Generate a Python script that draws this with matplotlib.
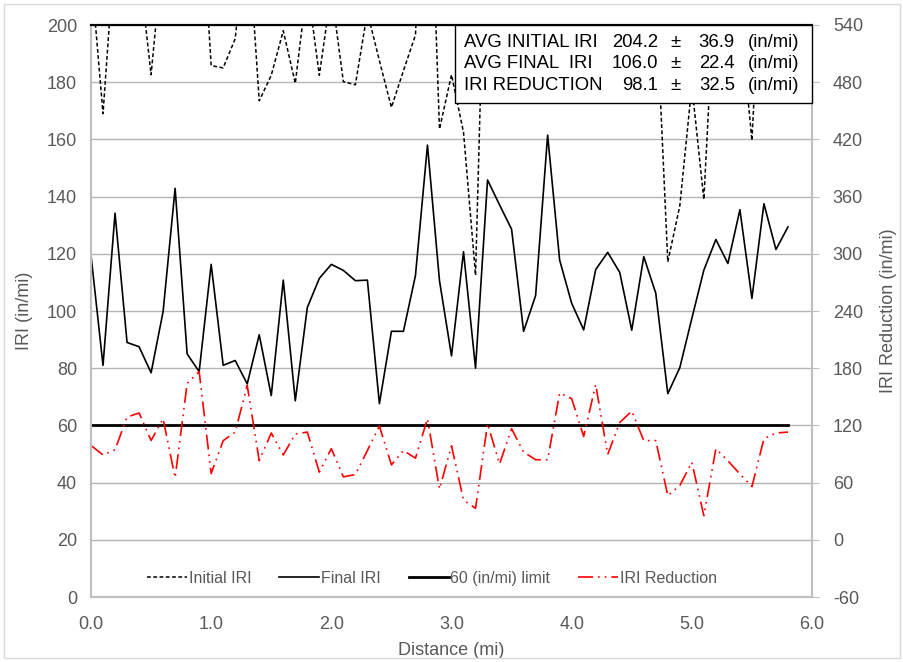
import numpy as np
import matplotlib
matplotlib.use("Agg")
import matplotlib.pyplot as plt
from matplotlib.patches import Rectangle

plt.rcParams['font.family'] = ['Liberation Sans', 'DejaVu Sans']
plt.rcParams['axes.unicode_minus'] = False

# distance stations (mi), one every 0.1 mi
distance = np.round(np.arange(0, 5.85, 0.1), 1)

initial_iri = [218.5, 169.0, 228.6, 217.8, 220.5, 182.6, 226.8, 207.9, 248.9, 255.3,
               185.8, 185.0, 195.2, 236.5, 173.5, 182.4, 198.0, 179.6, 214.2, 182.4,
               211.9, 180.2, 179.1, 204.5, 187.5, 171.2, 184.0, 196.5, 285.0, 163.6,
               182.6, 162.5, 112.5, 267.6, 216.7, 245.1, 184.9, 189.4, 245.5, 271.8,
               250.7, 201.8, 277.3, 210.0, 236.5, 228.3, 223.0, 210.2, 117.2, 136.8,
               178.8, 139.0, 220.4, 199.6, 204.4, 159.6, 243.5, 233.5, 242.4]

final_iri = [119.5, 81.0, 134.2, 89.0, 87.5, 78.4, 99.8, 142.9, 85.0, 78.8,
             116.3, 81.0, 82.7, 74.5, 91.7, 70.4, 110.8, 68.6, 101.2, 111.4,
             116.3, 114.2, 110.6, 110.8, 67.6, 92.9, 92.9, 112.4, 158.0, 110.6,
             84.3, 120.7, 80.0, 145.8, 137.1, 128.6, 92.9, 105.4, 161.5, 117.8,
             102.7, 93.4, 114.5, 120.5, 113.5, 93.3, 119.0, 106.2, 71.1, 80.2,
             97.4, 114.3, 125.0, 116.6, 135.4, 104.4, 137.5, 121.5, 129.4]

iri_reduction = [99.0, 89.0, 94.4, 128.8, 133.0, 104.2, 127.0, 65.0, 163.9, 176.5,
                 69.5, 104.0, 113.0, 162.0, 83.0, 112.0, 89.0, 111.0, 113.0, 71.0,
                 95.6, 66.0, 68.5, 93.7, 119.3, 78.6, 93.7, 85.6, 127.0, 53.3,
                 98.6, 41.8, 33.0, 121.8, 79.6, 116.5, 92.0, 84.0, 84.0, 154.0,
                 148.0, 108.4, 162.8, 89.5, 123.0, 135.0, 104.0, 104.0, 46.3, 56.8,
                 81.4, 25.3, 95.4, 83.0, 69.0, 55.8, 106.0, 112.0, 113.0]

limit_value = 60

stat_labels = ['AVG INITIAL IRI', 'AVG FINAL  IRI', 'IRI REDUCTION']
stat_means = ['204.2', '106.0', '98.1']
stat_sds = ['36.9', '22.4', '32.5']

GRAY_TXT = '#595959'
GRID = '#b3b3b3'

fig = plt.figure(figsize=(9.04, 6.62), dpi=100)
ax = fig.add_axes([91 / 904, 1 - 597 / 662, 721 / 904, 572 / 662])
ax2 = ax.twinx()

# chart border
fig.patches.append(Rectangle((4 / 904, 4 / 662), 896 / 904, 654 / 662, transform=fig.transFigure,
                             fill=False, edgecolor='#d9d9d9', linewidth=1.0))

ax.set_xlim(0, 6)
ax.set_ylim(0, 200)
ax2.set_ylim(-60, 540)
ax.set_xticks(np.arange(0, 6.1, 1.0))
ax.set_xticklabels([f'{v:.1f}' for v in np.arange(0, 6.1, 1.0)])
ax.set_yticks(np.arange(0, 201, 20))
ax2.set_yticks(np.arange(-60, 541, 60))

ax.grid(axis='y', color=GRID, linewidth=1.0)
ax.set_axisbelow(True)

l1, = ax.plot(distance, initial_iri, color='black', linestyle=(0, (2.5, 1.6)), linewidth=1.1,
              label='Initial IRI')
l2, = ax.plot(distance, final_iri, color='black', linewidth=1.2, label='Final IRI')
l3, = ax.plot([distance[0], distance[-1]], [limit_value, limit_value], color='black',
              linewidth=2.0, label='60 (in/mi) limit')
l4, = ax2.plot(distance, iri_reduction, color='#ff0000', linewidth=1.2,
               linestyle=(0, (9, 3, 1, 3, 1, 3)), label='IRI Reduction')

for a in (ax, ax2):
    a.spines['top'].set_color('black')
    a.spines['top'].set_linewidth(1.5)
    for s in ('left', 'bottom', 'right'):
        a.spines[s].set_color('#bfbfbf')
        a.spines[s].set_linewidth(1.5)

ax.tick_params(axis='x', length=0, labelsize=13, labelcolor=GRAY_TXT, pad=14)
ax.tick_params(axis='y', length=0, labelsize=13, labelcolor=GRAY_TXT, pad=10)
ax2.tick_params(axis='y', length=5, color='#bfbfbf', labelsize=13, labelcolor=GRAY_TXT, pad=10)

ax.set_xlabel('Distance (mi)', fontsize=13, color=GRAY_TXT, labelpad=6)
ax.set_ylabel('IRI (in/mi)', fontsize=13, color=GRAY_TXT, labelpad=10)
ax2.set_ylabel('IRI Reduction (in/mi)', fontsize=13, color=GRAY_TXT, rotation=90, labelpad=12)

leg = ax.legend(handles=[l1, l2, l3, l4], loc='center', bbox_to_anchor=(0.473, 0.033), ncol=4,
                frameon=False, fontsize=11.5, handlelength=2.5, handletextpad=0.1,
                columnspacing=1.75, borderpad=0)
for t in leg.get_texts():
    t.set_color(GRAY_TXT)

# statistics box
ax2.add_patch(Rectangle((0.505, 0.864), 0.495, 0.136, transform=ax.transAxes, facecolor='white',
                        edgecolor='black', linewidth=1.0, zorder=5, clip_on=False))
row_y = [0.970, 0.933, 0.895]
for lab, m, sd, y in zip(stat_labels, stat_means, stat_sds, row_y):
    kw = dict(transform=ax.transAxes, fontsize=13.3, va='center', zorder=6)
    ax2.text(0.517, y, lab, ha='left', **kw)
    ax2.text(0.786, y, m, ha='right', **kw)
    ax2.text(0.811, y, '±', ha='center', **kw)
    ax2.text(0.893, y, sd, ha='right', **kw)
    ax2.text(0.911, y, '(in/mi)', ha='left', **kw)

fig.savefig('out.png', dpi=100)
